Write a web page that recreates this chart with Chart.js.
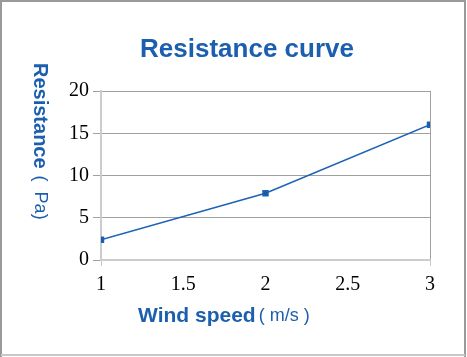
<!DOCTYPE html>
<html>
<head>
<meta charset="utf-8">
<script src="https://cdn.jsdelivr.net/npm/chart.js@4"></script>
<style>
html,body{margin:0;padding:0;background:#fff;}
#wrap{width:467px;height:357px;position:relative;}
</style>
</head>
<body>
<div id="wrap"><canvas id="c" width="467" height="357"></canvas></div>
<script>
const windSpeed = [1, 2, 3];
const resistance = [2.4, 7.9, 16];
const xTicks = [1, 1.5, 2, 2.5, 3];
const yTicks = [0, 5, 10, 15, 20];
const titleText = 'Resistance curve';
const yTitleMain = 'Resistance';
const yTitleUnit = '(  Pa)';
const xTitleMain = 'Wind speed';
const xTitleUnit = '( m/s )';

const BLUE = '#1c5fae';

const decor = {
  id: 'decor',
  beforeDraw(chart) {
    const ctx = chart.ctx;
    ctx.save();
    ctx.fillStyle = '#fff';
    ctx.fillRect(0, 0, chart.width, chart.height);
    ctx.restore();
  },
  afterDraw(chart) {
    const ctx = chart.ctx;
    ctx.save();
    // outer frame
    ctx.strokeStyle = '#9a9a9a';
    ctx.lineWidth = 2;
    ctx.beginPath();
    ctx.moveTo(1, 357); ctx.lineTo(1, 1); ctx.lineTo(465, 1); ctx.lineTo(465, 357);
    ctx.stroke();
    ctx.strokeStyle = '#c8c8c8';
    ctx.beginPath();
    ctx.moveTo(1, 355); ctx.lineTo(465, 355);
    ctx.stroke();
    // title
    ctx.fillStyle = BLUE;
    ctx.textAlign = 'center';
    ctx.textBaseline = 'alphabetic';
    ctx.font = 'bold 26px "Liberation Sans", Arial, sans-serif';
    ctx.fillText(titleText, 247, 57);
    // x title
    ctx.textAlign = 'left';
    ctx.font = 'bold 21px "Liberation Sans", Arial, sans-serif';
    ctx.fillText(xTitleMain, 138, 322);
    let w = ctx.measureText(xTitleMain).width;
    ctx.font = '18px "Liberation Sans", Arial, sans-serif';
    ctx.fillText(xTitleUnit, 138 + w + 3, 321);
    // y title
    ctx.translate(34, 63);
    ctx.rotate(Math.PI / 2);
    ctx.font = 'bold 20px "Liberation Sans", Arial, sans-serif';
    ctx.fillText(yTitleMain, 0, 0);
    w = ctx.measureText(yTitleMain).width;
    ctx.font = '18px "Liberation Sans", Arial, sans-serif';
    ctx.fillText(yTitleUnit, w + 7, -1);
    ctx.restore();
  }
};

new Chart(document.getElementById('c'), {
  type: 'line',
  data: {
    datasets: [{
      data: windSpeed.map((x, i) => ({ x: x, y: resistance[i] })),
      borderColor: '#1d62b6',
      backgroundColor: '#1a58a6',
      borderWidth: 1.5,
      pointStyle: 'rect',
      pointRadius: 3.5,
      pointHoverRadius: 3.5,
      tension: 0,
      fill: false
    }]
  },
  options: {
    responsive: false,
    animation: false,
    devicePixelRatio: 1,
    layout: { padding: { left: 0, right: 37, top: 91, bottom: 0 } },
    plugins: { legend: { display: false }, tooltip: { enabled: false }, title: { display: false } },
    scales: {
      x: {
        type: 'linear',
        min: 1, max: 3,
        afterBuildTicks: s => { s.ticks = xTicks.map(v => ({ value: v })); },
        afterFit: s => { s.height = 97; },
        ticks: { color: '#000', padding: 7, maxRotation: 0, callback: v => String(v), font: { family: '"Liberation Serif", serif', size: 20 } },
        grid: {
          color: c => (c.tick && c.tick.value === 3) ? '#a0a0a0' : 'rgba(0,0,0,0)',
          tickColor: c => (c.tick && (c.tick.value === 3 || c.tick.value === 1)) ? '#c8c8c8' : 'rgba(0,0,0,0)',
          tickLength: 6,
          lineWidth: 1
        },
        border: { color: '#cccccc', width: 2 }
      },
      y: {
        min: 0, max: 20,
        afterBuildTicks: s => { s.ticks = yTicks.map(v => ({ value: v })); },
        afterFit: s => { s.width = 101; },
        ticks: { color: '#000', padding: 4, callback: v => String(v), font: { family: '"Liberation Serif", serif', size: 20 } },
        grid: {
          color: c => (c.tick && c.tick.value === 0) ? '#cccccc' : '#a0a0a0',
          tickColor: '#a0a0a0',
          tickLength: 8,
          lineWidth: 1
        },
        border: { color: '#cccccc', width: 2 }
      }
    }
  },
  plugins: [decor]
});
</script>
</body>
</html>
